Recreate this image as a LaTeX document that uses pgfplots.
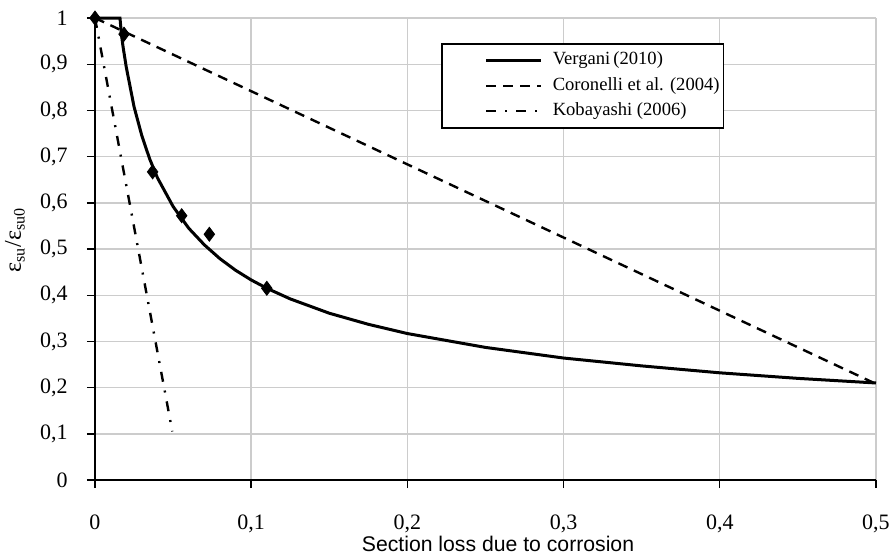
\documentclass[border=0pt]{standalone}
\usepackage{fontspec}
\setmainfont{Liberation Serif}
\setsansfont{Liberation Sans}
\usepackage{pgfplots}
\usepackage{pgfplotstable}
\pgfplotsset{compat=1.18}

% Vergani (2010) model curve
\pgfplotstableread{
x y
0     1
0.016 1
0.017 0.962
0.018 0.937
0.020 0.894
0.025 0.808
0.030 0.745
0.035 0.695
0.040 0.654
0.050 0.592
0.060 0.545
0.070 0.509
0.080 0.479
0.090 0.454
0.100 0.433
0.110 0.415
0.125 0.392
0.150 0.361
0.175 0.337
0.200 0.317
0.250 0.287
0.300 0.264
0.350 0.247
0.400 0.232
0.450 0.220
0.500 0.210
}\vergani

% test results
\pgfplotstableread{
x y
0      1
0.0186 0.965
0.0369 0.667
0.0555 0.572
0.0732 0.532
0.1100 0.415
}\tests

% Coronelli et al. (2004)
\pgfplotstableread{
x y
0   1
0.5 0.208
}\coronelli

% Kobayashi (2006)
\pgfplotstableread{
x y
0      1
0.0495 0.105
}\kobayashi

\begin{document}
\begin{tikzpicture}
\useasboundingbox (-47.5pt,-37pt) rectangle (398pt,240pt);
\begin{axis}[
  at={(0,0)}, anchor=south west,
  scale only axis,
  width=390.5pt, height=231pt,
  xmin=0, xmax=0.5, ymin=0, ymax=1,
  xtick={0,0.1,0.2,0.3,0.4,0.5},
  ytick={0,0.1,0.2,0.3,0.4,0.5,0.6,0.7,0.8,0.9,1},
  axis x line=bottom, axis y line=left,
  axis line style={-, black, line width=0.9pt},
  grid=major,
  major grid style={gray!40, line width=0.7pt},
  tick align=outside,
  major tick length=4pt,
  tick style={black, line width=0.7pt},
  clip=false,
  /pgf/number format/use comma,
  /pgf/number format/assume math mode=true,
  ticklabel style={font=\fontsize{11}{12}\selectfont},
  xticklabel style={anchor=base, yshift=-20.8pt},
  yticklabel style={anchor=east, inner xsep=0pt, xshift=-9.5pt},
  xlabel={Section loss due to corrosion},
  xlabel style={font=\sffamily\fontsize{10.6}{12}\selectfont,
    at={(axis description cs:0.516,-0.1558)}, anchor=base},
  ylabel={ε\textsubscript{su}/ε\textsubscript{su0}},
  ylabel style={font=\fontsize{12}{13}\selectfont,
    at={(axis description cs:-0.1025,0.519)}, anchor=center},
  legend style={
    at={(rel axis cs:0.443,0.946)}, anchor=north west,
    draw=black, line width=0.8pt, fill=white,
    inner xsep=0pt, inner ysep=2pt,
    font=\fontsize{9.3}{11}\selectfont,
    row sep=0pt,
    nodes={inner ysep=0pt, text height=8.6pt, text depth=4.1pt},
  },
  legend cell align=left,
  legend image code/.code={
    \path (-21.5pt,0pt) (30.5pt,0pt);
    \draw[#1] (0pt,0pt) -- (27.5pt,0pt);
  },
]
\addplot[black, line width=1.5pt] table {\vergani};
\addlegendentry{Vergani\,(2010)}
\addplot[black, line width=1.2pt, dash pattern=on 5pt off 3.5pt] table {\coronelli};
\addlegendentry{Coronelli et al. (2004)}
\addplot[black, line width=1.2pt, dash pattern=on 5pt off 4.5pt on 1pt off 4.5pt] table {\kobayashi};
\addlegendentry{Kobayashi (2006)}
\addplot[only marks, mark=diamond*, mark size=3.5pt, black, forget plot] table {\tests};
\end{axis}
\end{tikzpicture}
\end{document}
